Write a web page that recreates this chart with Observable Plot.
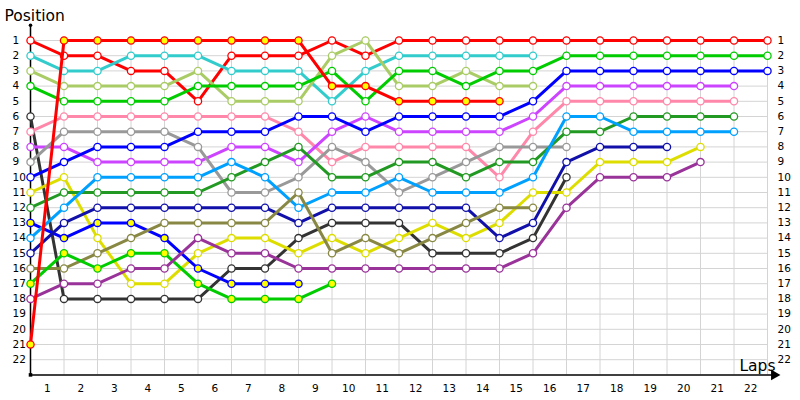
<!DOCTYPE html>
<html><head><meta charset="utf-8">
<script src="https://cdn.jsdelivr.net/npm/d3@7"></script>
<script src="https://cdn.jsdelivr.net/npm/@observablehq/plot@0.6"></script>
<style>body{margin:0;background:#fff} svg{display:block}</style>
</head><body><div id="chart"></div>
<script>
// ---- data ----
const laps = d3.range(0, 23);            // lap 0 (grid) .. lap 22
const positionTicks = d3.range(1, 23);   // 1..22
const lapLabels = d3.range(1, 23);       // 1..22 (labels between grid lines)

// positions per lap, starting at lap 0
const redA      = [1,2,2,3,3,5,2,2,2,1,2,1,1,1,1,1,1,1,1,1,1,1,1];
const cyan      = [2,3,3,2,2,2,3,3,3,5,3,2,2,2,2,2];
const yellowGrn = [3,4,4,4,4,3,5,5,5,2,1,4,4,3,4,4];
const greenA    = [4,5,5,5,5,4,4,4,4,3,5,3,3,4,3,3,2,2,2,2,2,2,2];
const black     = [6,18,18,18,18,18,16,16,14,13,13,13,15,15,15,14,10];
const pink      = [7,6,6,6,6,6,6,6,7,9,8,8,8,8,10,7,5,5,5,5,5,5];
const violet    = [8,8,9,9,9,9,8,8,9,7,6,7,7,7,7,6,4,4,4,4,4,4];
const gray      = [9,7,7,7,7,8,11,11,10,8,9,11,10,9,8,8,8];
const blueA     = [10,9,8,8,8,7,7,7,6,6,7,6,6,6,6,5,3,3,3,3,3,3,3];
const yellow    = [11,10,14,17,17,15,14,14,15,14,15,14,13,14,13,11,11,9,9,9,8];
const darkGreen = [12,11,11,11,11,11,10,9,8,10,10,9,9,10,9,9,7,7,6,6,6,6];
const blueB     = [13,14,13,13,14,16,17,17,17];
const lightBlue = [14,12,10,10,10,10,9,10,12,11,11,10,11,11,11,10,6,6,7,7,7,7];
const navy      = [15,13,12,12,12,12,12,12,13,12,12,12,12,12,14,13,9,8,8,8];
const olive     = [16,16,15,14,13,13,13,13,11,15,14,15,14,13,12,12];
const greenB    = [17,15,16,15,15,17,18,18,18,17];
const purple    = [18,17,17,16,16,14,15,15,16,16,16,16,16,16,16,15,12,10,10,10,9];
const redB      = [21,1,1,1,1,1,1,1,1,4,4,5,5,5,5];

const seriesNames  = ["redA","cyan","yellowGrn","greenA","black","pink","violet","gray","blueA","yellow","darkGreen","blueB","lightBlue","navy","olive","greenB","purple","redB"];
const seriesValues = [redA,cyan,yellowGrn,greenA,black,pink,violet,gray,blueA,yellow,darkGreen,blueB,lightBlue,navy,olive,greenB,purple,redB];
const seriesColors = ["#ff0000","#33cccc","#aacc66","#00cc00","#333333","#ff88aa","#cc44ff","#999999","#0000ff","#dddd00","#229922","#0000ff","#00a0ff","#1111aa","#888844","#00cc00","#993399","#ff0000"];
const seriesFills  = ["#ffffff","#ffffff","#ffffff","#ffffff","#ffffff","#ffffff","#ffffff","#ffffff","#ffffff","#ffffff","#ffffff","#ffff00","#ffffff","#ffffff","#ffffff","#ffff00","#ffffff","#ffff00"];

// ---- build table ----
const tables = seriesNames.map((name, i) =>
  seriesValues[i].map((pos, lap) => ({name, lap, pos})));

const seriesMarks = tables.flatMap((rows, i) => [
  Plot.line(rows, {x: "lap", y: "pos", stroke: seriesColors[i], strokeWidth: 3, strokeLinejoin: "round"}),
  Plot.dot(rows, {x: "lap", y: "pos", r: 3.6, stroke: seriesColors[i], strokeWidth: 1.3, fill: seriesFills[i]})
]);

const grid = "#d4d4d4";
const chart = Plot.plot({
  width: 800,
  height: 400,
  marginTop: 24.8,
  marginBottom: 25.6,
  marginLeft: 30,
  marginRight: 33,
  style: {fontFamily: "DejaVu Sans, Verdana, sans-serif", background: "#fff", overflow: "visible"},
  x: {domain: [0, 22], label: null},
  y: {domain: [0, 23], reverse: true, label: null},
  marks: [
    Plot.ruleY(positionTicks, {stroke: grid, strokeWidth: 1}),
    Plot.ruleX(laps, {y1: 0.75, y2: 23, stroke: grid, strokeWidth: 1}),
    Plot.axisY(positionTicks, {anchor: "left", tickSize: 0, tickPadding: 18, textAnchor: "start", fontSize: 10.5, fill: "#000", label: null}),
    Plot.axisY(positionTicks, {anchor: "right", tickSize: 0, tickPadding: 10, textAnchor: "start", fontSize: 10.5, fill: "#000", label: null}),
    Plot.axisX(lapLabels.map(k => k - 0.5), {anchor: "bottom", tickSize: 0, tickPadding: 10, fontSize: 10.5, fill: "#000", label: null, tickFormat: d => String(d + 0.5)}),
    // axis lines
    Plot.ruleX([0], {y1: 0, y2: 23, stroke: "#000", strokeWidth: 1.5}),
    Plot.ruleY([23], {x1: 0, x2: 22.25, stroke: "#000", strokeWidth: 1.5}),
    Plot.dot([22.2], {x: d => d, y: 23, symbol: "triangle", rotate: 90, r: 4, fill: "#000", stroke: null}),
    Plot.dot([0], {x: d => d, y: 0, r: 1.8, fill: "#000", stroke: null}),
    Plot.dot([0], {x: d => d, y: 23, symbol: "square", r: 2, fill: "#000", stroke: null}),
    ...seriesMarks,
    Plot.text(["Position"], {frameAnchor: "top-left", dx: -26, dy: -4, textAnchor: "start", lineAnchor: "bottom", fontSize: 15.5, fill: "#000"}),
    Plot.text(["Laps"], {frameAnchor: "bottom-right", dx: 8, dy: -4, textAnchor: "end", lineAnchor: "bottom", fontSize: 15.5, fill: "#000"})
  ]
});
document.getElementById("chart").appendChild(chart);
</script>
</body></html>
